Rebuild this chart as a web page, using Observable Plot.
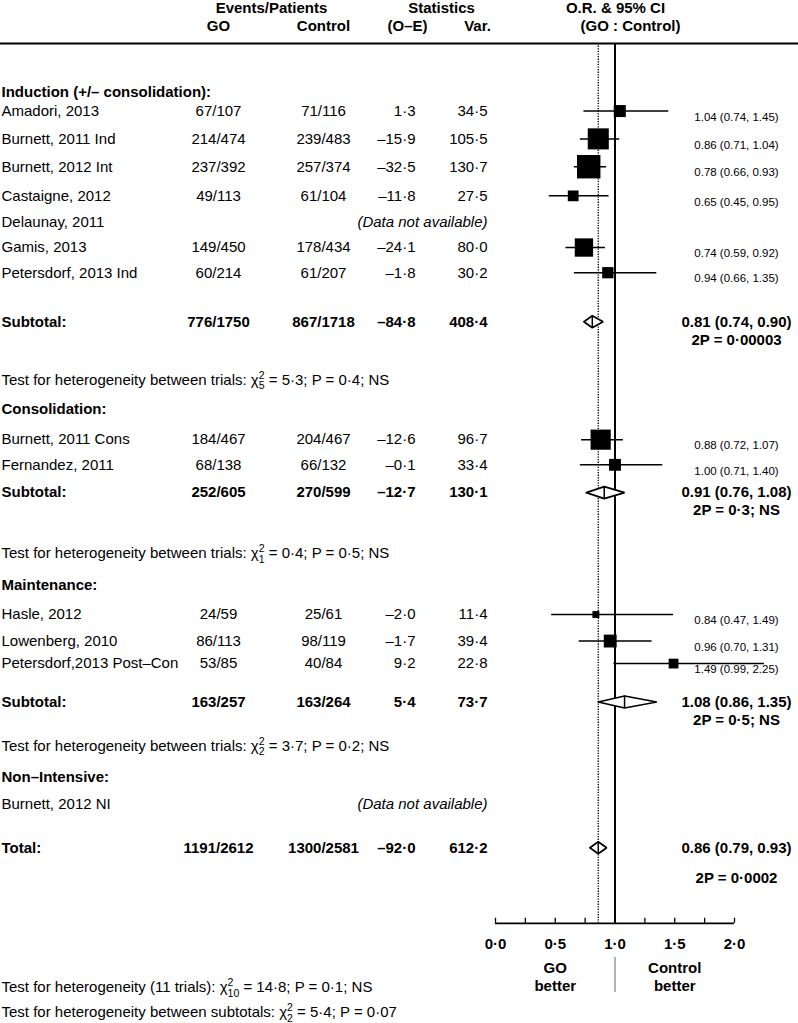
<!DOCTYPE html>
<html>
<head>
<meta charset="utf-8">
<script src="https://cdn.jsdelivr.net/npm/d3@7"></script>
<script src="https://cdn.jsdelivr.net/npm/@observablehq/plot@0.6"></script>
<style>
  html, body { margin: 0; padding: 0; background: #fff; }
  #chart svg { display: block; }
</style>
</head>
<body>
<div id="chart"></div>
<script>
// ---------------- DATA ----------------
const sections = ["Induction (+/– consolidation):", "Consolidation:", "Maintenance:", "Non–Intensive:"];

const trialNames = ["Amadori, 2013", "Burnett, 2011 Ind", "Burnett, 2012 Int", "Castaigne, 2012", "Delaunay, 2011",
  "Gamis, 2013", "Petersdorf, 2013 Ind", "Burnett, 2011 Cons", "Fernandez, 2011", "Hasle, 2012",
  "Lowenberg, 2010", "Petersdorf,2013 Post–Con", "Burnett, 2012 NI"];
const trialSection = [0, 0, 0, 0, 0, 0, 0, 1, 1, 2, 2, 2, 3];
const goEvents   = ["67/107", "214/474", "237/392", "49/113", null, "149/450", "60/214", "184/467", "68/138", "24/59", "86/113", "53/85", null];
const ctrlEvents = ["71/116", "239/483", "257/374", "61/104", null, "178/434", "61/207", "204/467", "66/132", "25/61", "98/119", "40/84", null];
const oMinusE  = [1.3, -15.9, -32.5, -11.8, null, -24.1, -1.8, -12.6, -0.1, -2.0, -1.7, 9.2, null];
const variance = [34.5, 105.5, 130.7, 27.5, null, 80.0, 30.2, 96.7, 33.4, 11.4, 39.4, 22.8, null];
const orEst  = [1.04, 0.86, 0.78, 0.65, null, 0.74, 0.94, 0.88, 1.00, 0.84, 0.96, 1.49, null];
const orLow  = [0.74, 0.71, 0.66, 0.45, null, 0.59, 0.66, 0.72, 0.71, 0.47, 0.70, 0.99, null];
const orHigh = [1.45, 1.04, 0.93, 0.95, null, 0.92, 1.35, 1.07, 1.40, 1.49, 1.31, 2.25, null];

const subtotalGo   = ["776/1750", "252/605", "163/257"];
const subtotalCtrl = ["867/1718", "270/599", "163/264"];
const subtotalOE   = [-84.8, -12.7, 5.4];
const subtotalVar  = [408.4, 130.1, 73.7];
const subtotalOR   = [0.81, 0.91, 1.08];
const subtotalLow  = [0.74, 0.76, 0.86];
const subtotalHigh = [0.90, 1.08, 1.35];
const subtotalP    = ["2P = 0·00003", "2P = 0·3; NS", "2P = 0·5; NS"];
const hetDf  = [5, 1, 2];
const hetChi = [5.3, 0.4, 3.7];
const hetP   = ["0·4; NS", "0·5; NS", "0·2; NS"];

const totalGo = "1191/2612", totalCtrl = "1300/2581", totalOE = -92.0, totalVar = 612.2;
const totalOR = 0.86, totalLow = 0.79, totalHigh = 0.93, totalP = "2P = 0·0002";

const footnotes = [
  "Test for heterogeneity (11 trials): χ^2_10 = 14·8; P = 0·1; NS",
  "Test for heterogeneity between subtotals: χ^2_2 = 5·4; P = 0·07"
];

const xTickValues = [0, 0.5, 1, 1.5, 2];
const xTickLabels = ["0·0", "0·5", "1·0", "1·5", "2·0"];
const xMinorTicks = [0, 0.25, 0.5, 0.75, 1, 1.25, 1.5, 1.75, 2];
const directionLabels = ["GO\nbetter", "Control\nbetter"];
const directionX = [0.5, 1.5];

// ---------------- LAYOUT ----------------
const lineH = 26.5; // px per table line
// vertical slots of the table rows (in line units), in display order
const rowLines = [0, 0.7, 1.75, 2.8, 3.9, 4.9, 5.85, 6.8, 8.65, 10.85,
  11.95, 13.1, 14.05, 15.1, 17.4,
  18.6, 19.7, 20.7, 21.55, 23.0, 24.65,
  25.85, 26.85,
  28.5];
const hdrLine1 = -3.17, hdrLine2 = -2.5, hdrRule = -1.85;
const axisLine = 31.35;
const dirLine = 33.36, sepTop = 32.64, sepBottom = 33.96;
const footLines = [33.77, 34.72];
const colX = {label: 1, go: 218, ctrl: 323, oe: 415, vr: 487, ci: 736};

const fmt1 = v => v.toFixed(1).replace("-", "–").replace(".", "·");
const fmtCI = (e, l, h) => `${e.toFixed(2)} (${l.toFixed(2)}, ${h.toFixed(2)})`;

// build rows
const trials = trialNames.map((name, i) => ({
  name, sec: trialSection[i], go: goEvents[i], ctrl: ctrlEvents[i],
  oe: oMinusE[i], v: variance[i], est: orEst[i], lo: orLow[i], hi: orHigh[i]
}));
let k = 0;
const headingRows = [], subRows = [], hetRows = [];
sections.forEach((s, si) => {
  headingRows.push({text: s, line: rowLines[k++]});
  trials.filter(t => t.sec === si).forEach(t => { t.line = rowLines[k++]; });
  if (si < subtotalOR.length) {
    subRows.push({name: "Subtotal:", go: subtotalGo[si], ctrl: subtotalCtrl[si], oe: subtotalOE[si], v: subtotalVar[si],
      est: subtotalOR[si], lo: subtotalLow[si], hi: subtotalHigh[si], p: subtotalP[si], line: rowLines[k++]});
    hetRows.push({text: `Test for heterogeneity between trials: χ^2_${hetDf[si]} = ${fmt1(hetChi[si])}; P = ${hetP[si]}`, line: rowLines[k++]});
  }
});
const totalRow = {name: "Total:", go: totalGo, ctrl: totalCtrl, oe: totalOE, v: totalVar,
  est: totalOR, lo: totalLow, hi: totalHigh, p: totalP, line: rowLines[k++]};
const sumRows = [...subRows, totalRow];

const withData = trials.filter(t => t.est != null);
const noData = trials.filter(t => t.est == null);

const dh = 6 / lineH;
const diamondPts = sumRows.flatMap((d, i) => [
  {id: i, x: d.lo, y: d.line}, {id: i, x: d.est, y: d.line - dh},
  {id: i, x: d.hi, y: d.line}, {id: i, x: d.est, y: d.line + dh}, {id: i, x: d.lo, y: d.line}
]);

const col = (data, text, px, anchor, extra = {}) =>
  Plot.text(data, {frameAnchor: "left", dx: px, y: "line", text, textAnchor: anchor, ...extra});

const headers = [
  {t: "Events/Patients", px: 271, line: hdrLine1},
  {t: "GO", px: 218, line: hdrLine2},
  {t: "Control", px: 323, line: hdrLine2},
  {t: "Statistics", px: 441, line: hdrLine1},
  {t: "(O–E)", px: 407, line: hdrLine2},
  {t: "Var.", px: 477, line: hdrLine2},
  {t: "O.R. & 95% CI", px: 615, line: hdrLine1},
  {t: "(GO : Control)", px: 630, line: hdrLine2}
];

const marks = [
  // header rule
  Plot.ruleY([hdrRule], {y: d => d, stroke: "black", strokeWidth: 2}),
  // header texts
  ...headers.map(h => Plot.text([h], {frameAnchor: "left", dx: h.px, y: "line", text: "t", textAnchor: "middle", fontWeight: "bold"})),
  // reference lines
  Plot.ruleX([1], {x: d => d, y1: () => hdrRule, y2: () => axisLine, stroke: "black", strokeWidth: 2}),
  Plot.ruleX([totalOR], {x: d => d, y1: () => hdrRule, y2: () => axisLine, stroke: "black", strokeWidth: 1.3, strokeDasharray: "1.3,1.3"}),
  // CI lines and squares
  Plot.ruleY(withData, {y: "line", x1: "lo", x2: "hi", stroke: "black", strokeWidth: 1.5}),
  Plot.dot(withData, {x: "est", y: "line", r: "v", symbol: "square", fill: "black", stroke: "none"}),
  // diamonds
  Plot.line(diamondPts, {x: "x", y: "y", z: "id", fill: "white", stroke: "black", strokeWidth: 1.7, strokeLinejoin: "miter"}),
  Plot.ruleX(sumRows, {x: "est", y1: d => d.line - dh, y2: d => d.line + dh, stroke: "black", strokeWidth: 1.5}),
  // section headings
  col(headingRows, "text", colX.label, "start", {fontWeight: "bold"}),
  // trial rows
  col(trials, "name", colX.label, "start"),
  col(withData, "go", colX.go, "middle"),
  col(withData, "ctrl", colX.ctrl, "middle"),
  col(withData, d => fmt1(d.oe), colX.oe, "end"),
  col(withData, d => fmt1(d.v), colX.vr, "end"),
  col(noData, () => "(Data not available)", colX.vr, "end", {fontStyle: "italic"}),
  col(withData, d => fmtCI(d.est, d.lo, d.hi), colX.ci, "middle", {fontSize: 11.5, dy: 6}),
  // subtotal / total rows
  col(sumRows, "name", colX.label, "start", {fontWeight: "bold"}),
  col(sumRows, "go", colX.go, "middle", {fontWeight: "bold"}),
  col(sumRows, "ctrl", colX.ctrl, "middle", {fontWeight: "bold"}),
  col(sumRows, d => fmt1(d.oe), colX.oe, "end", {fontWeight: "bold"}),
  col(sumRows, d => fmt1(d.v), colX.vr, "end", {fontWeight: "bold"}),
  col(sumRows, d => fmtCI(d.est, d.lo, d.hi), colX.ci, "middle", {fontWeight: "bold"}),
  col(subRows, "p", colX.ci, "middle", {fontWeight: "bold", dy: 18}),
  col([totalRow], "p", colX.ci, "middle", {fontWeight: "bold", dy: 30}),
  // heterogeneity
  col(hetRows, "text", colX.label, "start"),
  // x axis
  Plot.ruleY([axisLine], {y: d => d, x1: () => xMinorTicks[0], x2: () => xMinorTicks[xMinorTicks.length - 1], stroke: "black", strokeWidth: 1.7}),
  Plot.ruleX(xMinorTicks, {x: d => d, y1: () => axisLine - 5 / lineH, y2: () => axisLine, stroke: "black", strokeWidth: 1.3}),
  Plot.text(xTickValues, {x: d => d, y: () => axisLine, dy: 21, text: (d, i) => xTickLabels[i], fontWeight: "bold"}),
  Plot.text(directionX, {x: d => d, y: () => dirLine, text: (d, i) => directionLabels[i], fontWeight: "bold", lineHeight: 1.2}),
  Plot.ruleX([1], {x: d => d, y1: () => sepTop, y2: () => sepBottom, stroke: "#666", strokeWidth: 1}),
  // footnotes
  Plot.text(footnotes, {frameAnchor: "left", dx: colX.label, y: (d, i) => footLines[i], text: d => d, textAnchor: "start"})
];

const chart = Plot.plot({
  width: 798,
  height: 1023,
  margin: 0,
  x: {domain: [0, 2], range: [495, 734], axis: null},
  y: {domain: [0, 1], range: [92, 92 + lineH], axis: null},
  r: {type: "sqrt", domain: [0, 130.7], range: [0, 2.05 * Math.sqrt(130.7) / Math.sqrt(Math.PI)]},
  style: {fontFamily: "'Liberation Sans', Arial, Helvetica, sans-serif", fontSize: "15px", color: "black", background: "white", overflow: "visible"},
  marks
});

// render chi-square with stacked super/subscripts
const NS = "http://www.w3.org/2000/svg";
chart.querySelectorAll("text").forEach(t => {
  const m = t.textContent.match(/^(.*)χ\^(\d+)_(\d+)(.*)$/);
  if (!m) return;
  t.textContent = "";
  const add = (s, attrs = {}) => {
    const ts = document.createElementNS(NS, "tspan");
    ts.textContent = s;
    for (const a in attrs) ts.setAttribute(a, attrs[a]);
    t.appendChild(ts);
    return ts;
  };
  add(m[1] + "χ");
  add(m[2], {dy: -6, "font-size": 10.5});
  add(m[3], {dx: -5.8 * m[2].length, dy: 10.5, "font-size": 10.5});
  add(m[4], {dy: -4.5});
});

document.getElementById("chart").appendChild(chart);
</script>
</body>
</html>
